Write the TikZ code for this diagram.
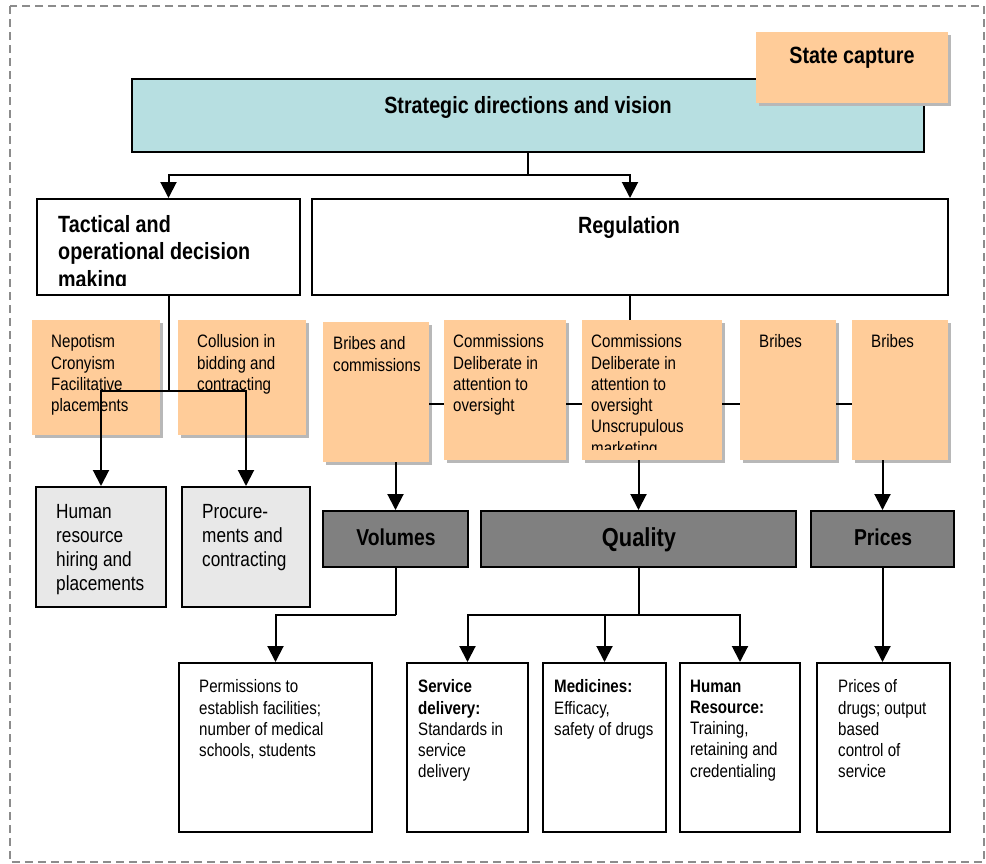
\documentclass[tikz,border=0pt]{standalone}
\usepackage{fontspec}
\setmainfont{Liberation Sans}[FakeStretch=0.84]
\usetikzlibrary{arrows.meta,fit,shadows}

\definecolor{capture}{HTML}{FFCC99}
\definecolor{vision}{HTML}{B7DFE1}
\definecolor{unitgray}{HTML}{E8E8E8}
\definecolor{outcome}{HTML}{808080}
\definecolor{framegray}{HTML}{8C8C8C}

\begin{document}
\begin{tikzpicture}[x=1pt, y=-1pt,
  box/.style={draw=black, line width=2pt, inner sep=0pt},
  risk/.style={fill=capture, inner sep=0pt,
    drop shadow={shadow xshift=3pt, shadow yshift=-3pt, fill=black!28, opacity=1}},
  body/.style={anchor=north west, inner sep=0pt, align=left,
    font=\fontsize{18}{21.3}\selectfont},
  unit/.style={anchor=north west, inner sep=0pt, align=left,
    font=\fontsize{20.5}{24}\selectfont},
  head/.style={anchor=base, inner sep=0pt, font=\bfseries\fontsize{23.5}{28}\selectfont},
  headl/.style={anchor=north west, inner sep=0pt, align=left,
    font=\bfseries\fontsize{23.5}{27.5}\selectfont},
  link/.style={line width=2pt},
  arr/.style={link, -{Triangle[length=16pt, width=16pt]}},
  outer/.style={draw=framegray, line width=1.2pt, dash pattern=on 8pt off 5pt}]

\useasboundingbox (0,0) rectangle (986,863);
\draw[outer] (10,6) rectangle (984,862);

% ---------- strategic level ----------
\node[box, fill=vision, fit={(132,79) (924,152)}] (vis) {};
\node[head] (vis-t) at (528,113) {Strategic directions and vision};
\node[risk, fit={(756,32) (948,103)}] (cap) {};
\node[head] (cap-t) at (852,63) {State capture};

% ---------- second level ----------
\node[box, fill=white, fit={(37,199) (300,295)}] (tac) {};
\begin{scope}
  \clip (37,199) rectangle (300,285);
  \node[headl] (tac-t) at (58,215) {Tactical and\\operational decision\\making};
\end{scope}
\node[box, fill=white, fit={(312,199) (948,295)}] (reg) {};
\node[head] (reg-t) at (629,233) {Regulation};

% ---------- corruption risks ----------
\node[risk, fit={(32,320) (160,435)}] (nep) {};
\node[body] (nep-t) at (51,334.5) {Nepotism\\Cronyism\\Facilitative\\placements};
\node[risk, fit={(178,320) (306,435)}] (col) {};
\node[body] (col-t) at (197,334.5) {Collusion in\\bidding and\\contracting};
\node[risk, fit={(323,322) (429,462)}] (bri) {};
\node[body] (bri-t) at (333,336.5) {Bribes and\\commissions};
\node[risk, fit={(444,320) (566,460)}] (com) {};
\node[body] (com-t) at (453,334.5) {Commissions\\Deliberate in\\attention to\\oversight};
\node[risk, fit={(582,320) (722,460)}] (mkt) {};
\begin{scope}
  \clip (582,320) rectangle (722,449);
  \node[body] (mkt-t) at (591,334.5) {Commissions\\Deliberate in\\attention to\\oversight\\Unscrupulous\\marketing};
\end{scope}
\node[risk, fit={(740,320) (836,460)}] (brA) {};
\node[body] (brA-t) at (759,334.5) {Bribes};
\node[risk, fit={(852,320) (948,460)}] (brB) {};
\node[body] (brB-t) at (871,334.5) {Bribes};

% ---------- operational units ----------
\node[box, fill=unitgray, fit={(36,487) (166,607)}] (hr) {};
\node[unit] (hr-t) at (56,504) {Human\\resource\\hiring and\\placements};
\node[box, fill=unitgray, fit={(182,487) (310,607)}] (proc) {};
\node[unit] (proc-t) at (202,504) {Procure-\\ments and\\contracting};

% ---------- regulated dimensions ----------
\node[box, fill=outcome, fit={(323,511) (468,567)}] (vol) {};
\node[head, font=\bfseries\fontsize{23}{28}\selectfont] (vol-t) at (396,545) {Volumes};
\node[box, fill=outcome, fit={(481,511) (796,567)}] (qual) {};
\node[head, font=\bfseries\fontsize{26}{30}\selectfont] (qual-t) at (639,546) {Quality};
\node[box, fill=outcome, fit={(811,511) (954,567)}] (pri) {};
\node[head, font=\bfseries\fontsize{23}{28}\selectfont] (pri-t) at (883,545) {Prices};

% ---------- regulated instruments ----------
\node[box, fill=white, fit={(179,663) (372,832)}] (perm) {};
\node[body] (perm-t) at (199,679.5) {Permissions to\\establish facilities;\\number of medical\\schools, students};
\node[box, fill=white, fit={(407,663) (528,832)}] (sd) {};
\node[body] (sd-t) at (418,679.5) {\textbf{Service}\\\textbf{delivery:}\\Standards in\\service\\delivery};
\node[box, fill=white, fit={(543,663) (666,832)}] (med) {};
\node[body] (med-t) at (554,679.5) {\textbf{Medicines:}\\Efficacy,\\safety of drugs};
\node[box, fill=white, fit={(680,663) (800,832)}] (hrs) {};
\node[body] (hrs-t) at (690,679.5) {\textbf{Human}\\\textbf{Resource:}\\Training,\\retaining and\\credentialing};
\node[box, fill=white, fit={(817,663) (950,832)}] (pod) {};
\node[body] (pod-t) at (838,679.5) {Prices of\\drugs; output\\based\\control of\\service};

% ---------- connectors ----------
\coordinate (split1) at (0,175);
\coordinate (split2) at (0,391);
\coordinate (row) at (0,404);
\coordinate (split3) at (0,615);

\draw[link] (vis.south) -- (vis.south |- split1);
\draw[arr] (vis.south |- split1) -| (tac.north);
\draw[arr] (vis.south |- split1) -| (reg.north);

\draw[link] (tac.south) -- (tac.south |- split2);
\draw[arr] (tac.south |- split2) -| (hr.north);
\draw[arr] (tac.south |- split2) -| (proc.north);

\draw[link] (reg.south) -- (reg.south |- mkt.north);
\draw[link] (bri.east |- row) -- (com.west |- row);
\draw[link] (com.east |- row) -- (mkt.west |- row);
\draw[link] (mkt.east |- row) -- (brA.west |- row);
\draw[link] (brA.east |- row) -- (brB.west |- row);

\draw[arr] (vol.north |- bri.south) -- (vol.north);
\draw[arr] (qual.north |- mkt.south) -- (qual.north);
\draw[arr] (pri.north |- brB.south) -- (pri.north);

\draw[link] (vol.south) -- (vol.south |- split3);
\draw[arr] (vol.south |- split3) -| (perm.north);

\draw[link] (qual.south) -- (qual.south |- split3);
\draw[arr] (qual.south |- split3) -| (sd.north);
\draw[arr] (qual.south |- split3) -| (hrs.north);
\draw[arr] (med.north |- split3) -- (med.north);

\draw[arr] (pri.south) -- (pri.south |- pod.north);
\end{tikzpicture}
\end{document}
